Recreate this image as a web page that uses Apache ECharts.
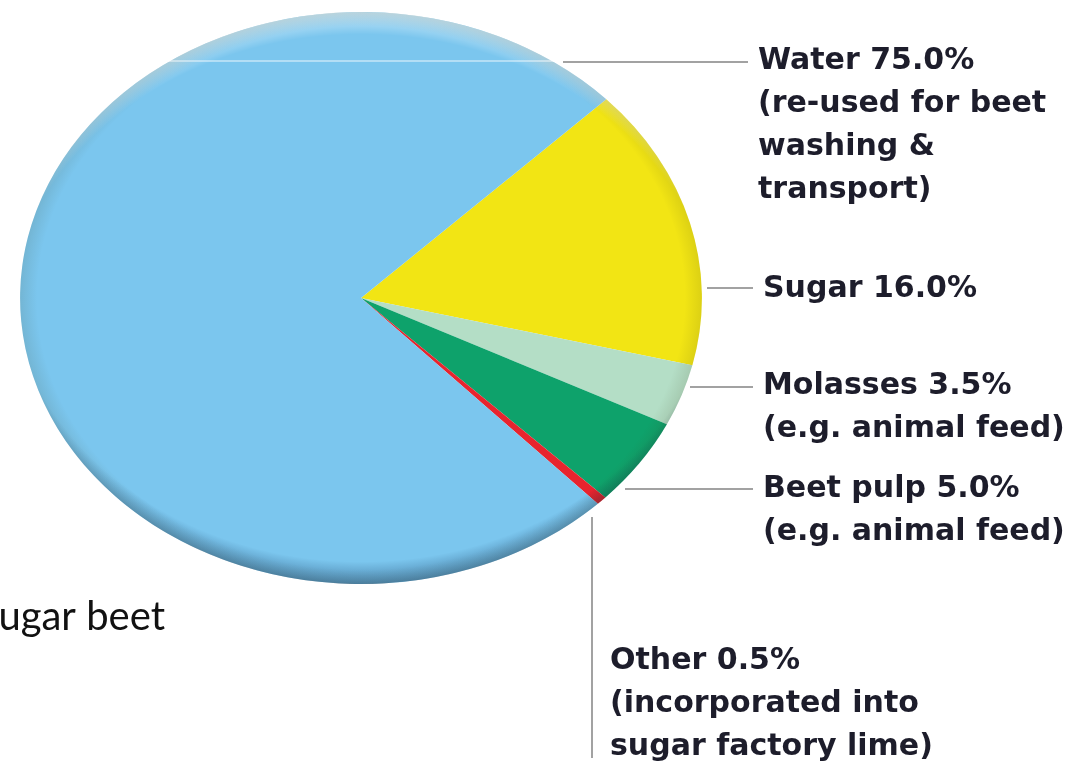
<!DOCTYPE html>
<html>
<head>
<meta charset="utf-8">
<script src="https://cdn.jsdelivr.net/npm/echarts@6/dist/echarts.min.js"></script>
<style>
  html, body { margin: 0; padding: 0; background: #ffffff; overflow: hidden; }
  #stage { position: relative; width: 1074px; height: 765px; }
  /* the pie is drawn round, then stretched sideways into an oval disc */
  #pie {
    position: absolute; left: 61px; top: -2px; width: 600px; height: 600px;
    transform: scaleX(1.192); transform-origin: 50% 50%;
  }
  #labels { position: absolute; left: 0; top: 0; width: 1074px; height: 765px; }
</style>
</head>
<body>
<div id="stage">
  <div id="pie"></div>
  <div id="labels"></div>
</div>
<script>
// Composition of processed sugar beet (share of beet mass, %)
const categories = ['Sugar', 'Molasses', 'Beet pulp', 'Other', 'Water'];
const shares = [16.0, 3.5, 5.0, 0.5, 75.0];
const notes = [
  '',
  '(e.g. animal feed)',
  '(e.g. animal feed)',
  '(incorporated into\nsugar factory lime)',
  '(re-used for beet\nwashing &\ntransport)'
];
const colors = ['#f2e514', '#b4dec6', '#0ea26b', '#e8242e', '#7bc6ee'];
const caption = 'Sugar beet';

// ---------- pie ----------
const pieChart = echarts.init(document.getElementById('pie'), null, { renderer: 'svg' });
const R = 286;

function rimLayer(cy, stops) {
  return {
    type: 'pie', radius: R, center: ['50%', '50%'], silent: true,
    label: { show: false }, labelLine: { show: false },
    emphasis: { disabled: true },
    data: [{
      value: 1,
      itemStyle: {
        color: { type: 'radial', x: 0.5, y: cy, r: 0.5 + Math.abs(cy - 0.5), colorStops: stops }
      }
    }]
  };
}

pieChart.setOption({
  animation: false,
  series: [
    {
      type: 'pie',
      radius: R,
      center: ['50%', '50%'],
      startAngle: 44,
      clockwise: true,
      silent: true,
      label: { show: false },
      labelLine: { show: false },
      itemStyle: { borderWidth: 0 },
      data: categories.map((name, i) => ({
        name, value: shares[i], itemStyle: { color: colors[i] }
      }))
    },
    // darker lower rim
    rimLayer(0.44, [
      { offset: 0, color: 'rgba(0,30,70,0)' },
      { offset: 0.93, color: 'rgba(0,30,70,0)' },
      { offset: 1, color: 'rgba(0,30,70,0.38)' }
    ]),
    // lighter upper rim
    rimLayer(0.56, [
      { offset: 0, color: 'rgba(255,255,255,0)' },
      { offset: 0.93, color: 'rgba(255,255,255,0)' },
      { offset: 1, color: 'rgba(255,255,255,0.6)' }
    ]),
    // soft all-round edge
    rimLayer(0.5, [
      { offset: 0, color: 'rgba(60,60,20,0)' },
      { offset: 0.95, color: 'rgba(60,60,20,0)' },
      { offset: 1, color: 'rgba(60,60,20,0.12)' }
    ])
  ]
});

// ---------- labels and leader lines ----------
const labelChart = echarts.init(document.getElementById('labels'));
const labelFont = 'bold 30px "DejaVu Sans", sans-serif';
const lineColor = '#a2a2a2';

// anchor of each label block (left, top of first line) and its leader line
const labelLayout = {
  Sugar:      { x: 763, y: 268, line: [[707, 288], [753, 288]] },
  Molasses:   { x: 763, y: 365, line: [[690, 387], [753, 387]] },
  'Beet pulp':{ x: 763, y: 468, line: [[625, 489], [753, 489]] },
  Other:      { x: 610, y: 640, line: [[592, 517], [592, 758]] },
  Water:      { x: 758, y: 40,  line: [[563, 62], [748, 62]] }
};

const graphics = [];
// faint light stroke running across the top of the disc
graphics.push({
  type: 'line', silent: true,
  shape: { x1: 165, y1: 61, x2: 563, y2: 61 },
  style: { stroke: 'rgba(255,255,255,0.85)', lineWidth: 1 }
});

categories.forEach((name, i) => {
  const lay = labelLayout[name];
  const [[x1, y1], [x2, y2]] = lay.line;
  graphics.push({
    type: 'line', silent: true,
    shape: { x1, y1, x2, y2 },
    style: { stroke: lineColor, lineWidth: 2 }
  });
  const head = name + ' ' + shares[i].toFixed(1) + '%';
  graphics.push({
    type: 'text', silent: true,
    x: lay.x, y: lay.y,
    style: {
      text: notes[i] ? head + '\n' + notes[i] : head,
      font: labelFont,
      fill: '#1d1d2b',
      lineHeight: 43,
      align: 'left',
      verticalAlign: 'top'
    }
  });
});

graphics.push({
  type: 'text', silent: true,
  x: 165, y: 617,
  style: {
    text: caption,
    font: '40px Lato, "Open Sans", sans-serif',
    fill: '#111111',
    align: 'right',
    verticalAlign: 'middle'
  }
});

labelChart.setOption({ animation: false, graphic: graphics });
</script>
</body>
</html>
